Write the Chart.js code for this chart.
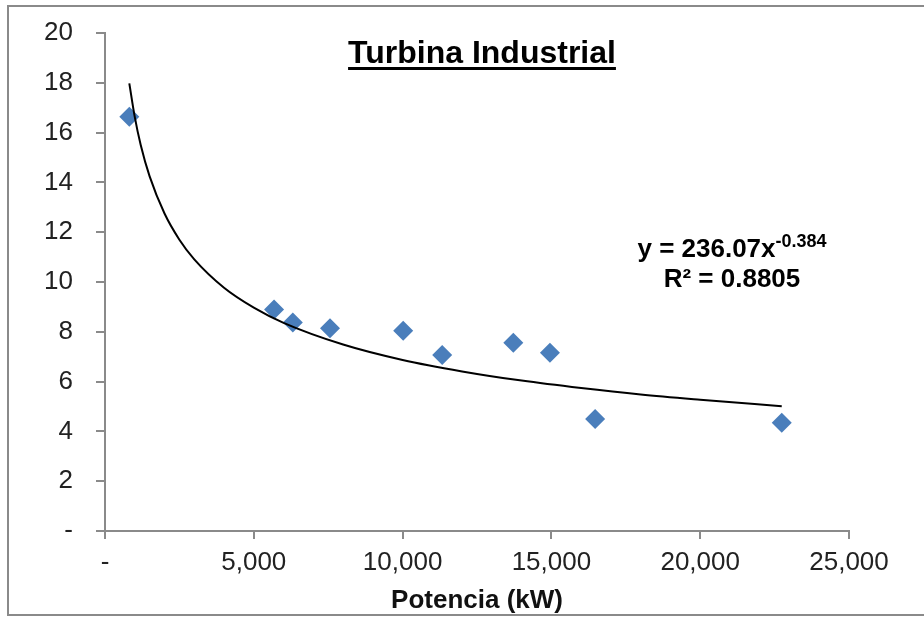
<!DOCTYPE html>
<html>
<head>
<meta charset="utf-8">
<title>Turbina Industrial</title>
<script src="https://cdn.jsdelivr.net/npm/chart.js@4/dist/chart.umd.min.js"></script>
<style>
  body { margin: 0; background: #fff; }
</style>
</head>
<body>
<canvas id="chart" width="924" height="617"></canvas>
<script>
// measured points (kW, value)
const potencia = [817, 5680, 6310, 7560, 10020, 11330, 13720, 14950, 16470, 22740];
const valores = [16.64, 8.90, 8.37, 8.14, 8.04, 7.07, 7.56, 7.16, 4.50, 4.35];

// points
const trendX = [817, 1000, 1200, 1500, 2000, 2500, 3000, 4000, 5000, 6000, 8000, 10000, 12000, 14000, 16000, 18000, 20000, 22740];
const trendY = [17.98, 16.63, 15.50, 14.24, 12.75, 11.70, 10.91, 9.77, 8.97, 8.36, 7.49, 6.87, 6.41, 6.04, 5.74, 5.48, 5.27, 5.01];

const xTickLabels = ['-', '5,000', '10,000', '15,000', '20,000', '25,000'];
const yTickLabels = ['-', '2', '4', '6', '8', '10', '12', '14', '16', '18', '20'];

const titleText = 'Turbina Industrial';
const axisTitle = 'Potencia (kW)';
const eqMain = 'y = 236.07x';
const eqExp = '-0.384';
const eqR2 = 'R² = 0.8805';

const fontFamily = '"Liberation Sans", Arial, sans-serif';
const axisGray = '#8a8a8a';

const toPoints = (xs, ys) => xs.map((x, i) => ({ x: x, y: ys[i] }));

// border, underlined title and trendline label
const decorations = {
  id: 'decorations',
  beforeDraw(chart) {
    const ctx = chart.ctx;
    ctx.save();
    ctx.fillStyle = '#fff';
    ctx.fillRect(0, 0, chart.width, chart.height);
    ctx.strokeStyle = axisGray;
    ctx.lineWidth = 2;
    ctx.strokeRect(8, 6, chart.width + 10, 609);
    ctx.restore();
  },
  afterDraw(chart) {
    const ctx = chart.ctx;
    ctx.save();
    ctx.fillStyle = '#000';
    ctx.textBaseline = 'alphabetic';

    ctx.font = `bold 32px ${fontFamily}`;
    ctx.textAlign = 'center';
    const tw = ctx.measureText(titleText).width;
    ctx.fillText(titleText, 482, 63);
    ctx.fillRect(482 - tw / 2, 67, tw, 3);

    ctx.textAlign = 'left';
    ctx.font = `bold 26px ${fontFamily}`;
    const mw = ctx.measureText(eqMain).width;
    ctx.font = `bold 18px ${fontFamily}`;
    const ew = ctx.measureText(eqExp).width;
    const startX = 732 - (mw + ew) / 2;
    ctx.font = `bold 26px ${fontFamily}`;
    ctx.fillText(eqMain, startX, 257);
    ctx.font = `bold 18px ${fontFamily}`;
    ctx.fillText(eqExp, startX + mw, 247);

    ctx.font = `bold 26px ${fontFamily}`;
    ctx.textAlign = 'center';
    ctx.fillText(eqR2, 732, 287);
    ctx.restore();
  }
};

const ctx = document.getElementById('chart').getContext('2d');
new Chart(ctx, {
  type: 'scatter',
  data: {
    datasets: [
      {
        label: 'Tendencia',
        data: toPoints(trendX, trendY),
        showLine: true,
        borderColor: '#000',
        borderWidth: 2,
        pointRadius: 0,
        cubicInterpolationMode: 'monotone',
        fill: false
      },
      {
        label: 'Turbina Industrial',
        data: toPoints(potencia, valores),
        pointStyle: 'rectRot',
        pointRadius: 10,
        pointBorderWidth: 0,
        backgroundColor: '#4A7EBB',
        borderColor: '#4A7EBB'
      }
    ]
  },
  options: {
    responsive: false,
    animation: false,
    layout: {
      padding: { left: 0, top: 33, right: 75, bottom: 0 }
    },
    plugins: {
      legend: { display: false },
      tooltip: { enabled: false },
      title: { display: false }
    },
    scales: {
      x: {
        type: 'linear',
        min: 0,
        max: 25000,
        ticks: {
          stepSize: 5000,
          padding: 8,
          color: '#222',
          font: { family: fontFamily, size: 26 },
          maxRotation: 0,
          callback: (value, index) => xTickLabels[index]
        },
        grid: {
          display: true,
          drawOnChartArea: false,
          drawTicks: true,
          tickLength: 8,
          color: axisGray,
          lineWidth: 2
        },
        border: { color: axisGray, width: 2 },
        title: {
          display: true,
          text: axisTitle,
          color: '#111',
          font: { family: fontFamily, size: 26, weight: 'bold' },
          padding: { top: 0, bottom: 1 }
        },
        afterFit: (scale) => { scale.height = 86; }
      },
      y: {
        min: 0,
        max: 20,
        ticks: {
          stepSize: 2,
          padding: 23,
          color: '#222',
          font: { family: fontFamily, size: 26 },
          callback: (value, index) => yTickLabels[index]
        },
        grid: {
          display: true,
          drawOnChartArea: false,
          drawTicks: true,
          tickLength: 9,
          color: axisGray,
          lineWidth: 2
        },
        border: { color: axisGray, width: 2 },
        afterFit: (scale) => {
          scale.width = 105;
          scale.paddingTop = 16;
          scale.paddingBottom = 16;
        }
      }
    }
  },
  plugins: [decorations]
});
</script>
</body>
</html>
